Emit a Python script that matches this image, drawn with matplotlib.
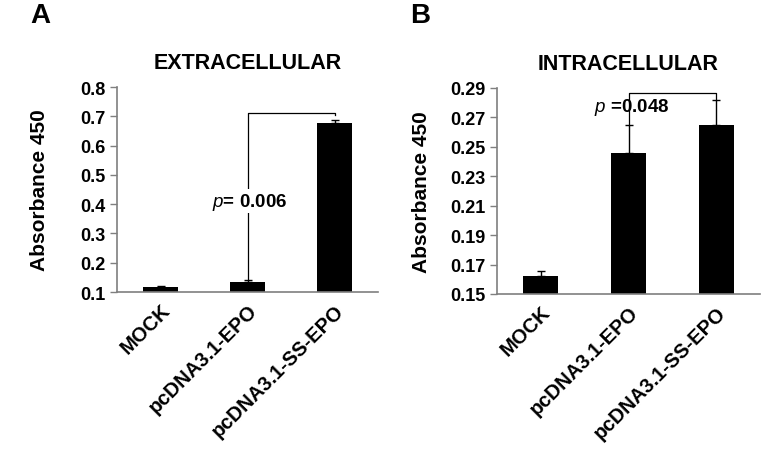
import matplotlib
matplotlib.use("Agg")
import matplotlib.pyplot as plt
import numpy as np

plt.rcParams['font.family'] = ['Liberation Sans', 'DejaVu Sans']
plt.rcParams['mathtext.fontset'] = 'custom'
plt.rcParams['mathtext.it'] = 'Liberation Sans:italic'
plt.rcParams['mathtext.rm'] = 'Liberation Sans:bold'

categories = ["MOCK", "pcDNA3.1-EPO", "pcDNA3.1-SS-EPO"]

# Panel A: extracellular
extra_vals = [0.118, 0.133, 0.676]
extra_err = [0.002, 0.009, 0.012]
extra_ticks = [0.1, 0.2, 0.3, 0.4, 0.5, 0.6, 0.7, 0.8]
extra_p = "0.006"
extra_bracket = (0.71, 0.704)  # top of bracket, lower end of right leg

# Panel B: intracellular
intra_vals = [0.162, 0.2455, 0.265]
intra_err = [0.0035, 0.0195, 0.017]
intra_ticks = [0.15, 0.17, 0.19, 0.21, 0.23, 0.25, 0.27, 0.29]
intra_p = "0.048"
intra_bracket = (0.2864, 0.2818)

W, H = 773, 464
fig = plt.figure(figsize=(W / 100, H / 100), dpi=100)

spine_col = "#7f7f7f"


def panel(rect, vals, errs, ticks, fmt, title, letter, letter_xy, ylabel_x,
          bracket, ptext, ptext_y, pbox, ptext_x_off):
    ax = fig.add_axes(rect)
    x = np.arange(len(categories))
    ax.bar(x, vals, width=0.4, color="black", zorder=2)
    ax.errorbar(x, vals, yerr=[np.zeros(len(errs)), errs], fmt="none",
                ecolor="black", elinewidth=1, capsize=3, capthick=1, zorder=3)
    ax.set_xlim(-0.5, len(categories) - 0.5)
    ax.set_ylim(ticks[0], ticks[-1])
    ax.set_yticks(ticks)
    ax.set_yticklabels([fmt.format(t) for t in ticks], fontsize=13,
                       fontweight="bold")
    ax.set_xticks(x)
    ax.set_xticklabels(categories, rotation=45, ha="right",
                       rotation_mode="anchor", fontsize=14.5, fontweight="bold")
    ax.tick_params(axis="x", length=0, pad=6)
    ax.tick_params(axis="y", length=5, width=1, color=spine_col, pad=3)
    for s in ["top", "right"]:
        ax.spines[s].set_visible(False)
    for s in ["left", "bottom"]:
        ax.spines[s].set_color(spine_col)
        ax.spines[s].set_linewidth(1.2)
    ax.set_title(title, fontsize=15.5, fontweight="bold", pad=14)
    ax.set_ylabel("Absorbance 450", fontsize=15, fontweight="bold")
    ax.yaxis.set_label_coords(ylabel_x, 0.5)
    fig.text(letter_xy[0] / W, 1 - letter_xy[1] / H, letter, fontsize=20,
             fontweight="bold", ha="center", va="center")
    # significance bracket between bars 1 and 2
    top, right_end = bracket
    left_start = vals[1] + errs[1]
    ax.plot([1, 1, 2, 2], [left_start, top, top, right_end], color="black",
            lw=0.9, zorder=1)
    kw = {}
    if pbox:
        kw["bbox"] = dict(facecolor="white", edgecolor="none", pad=1)
    ax.text(1 + ptext_x_off, ptext_y, r"$\mathit{p}$" + ptext, fontsize=13.5,
            fontweight="bold", ha="center", va="center", zorder=4, **kw)
    return ax


panel([117 / W, 1 - 293 / H, 261 / W, 205 / H], extra_vals, extra_err,
      extra_ticks, "{:.1f}", "EXTRACELLULAR", "A", (40, 16), -0.26,
      extra_bracket, "= " + extra_p, 0.41, True, 0.02)
panel([497 / W, 1 - 295 / H, 263 / W, 206 / H], intra_vals, intra_err,
      intra_ticks, "{:.2f}", "INTRACELLULAR", "B", (420, 16), -0.25,
      intra_bracket, " =" + intra_p, 0.2774, False, 0.04)

fig.savefig("out.png", dpi=100)
